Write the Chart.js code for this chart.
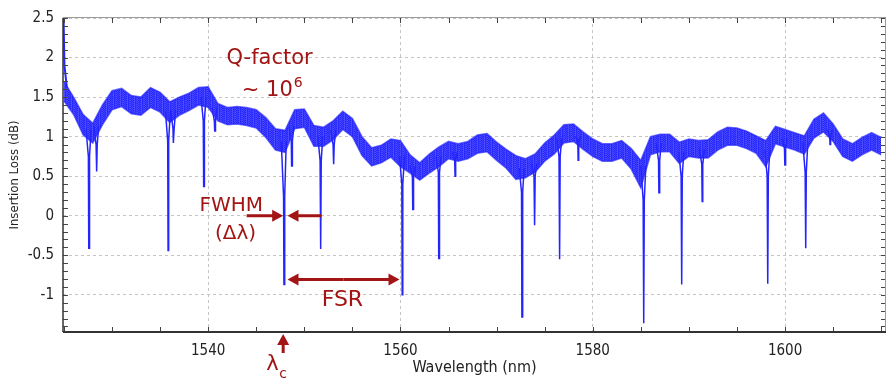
<!DOCTYPE html>
<html>
<head>
<meta charset="utf-8">
<script src="https://cdn.jsdelivr.net/npm/chart.js@4.4.1/dist/chart.umd.min.js"></script>
<style>
  html, body { margin: 0; padding: 0; background: #fff; }
  #spectrum { display: block; }
</style>
</head>
<body>
<canvas id="spectrum" width="886" height="383"></canvas>
<script>
// wavelength grid for the band readings (nm)
const bandNm = Array.from({length: 86}, (_, i) => 1525 + i);
// upper and lower edge of the noisy trace (dB)
const bandHigh = [
  1.70, 1.50, 1.28, 1.17, 1.40, 1.58, 1.61, 1.52, 1.50, 1.62,
  1.56, 1.44, 1.50, 1.55, 1.62, 1.63, 1.42, 1.37, 1.38, 1.37,
  1.34, 1.24, 1.10, 1.08, 1.34, 1.35, 1.14, 1.12, 1.20, 1.32,
  1.23, 1.00, 0.86, 0.89, 0.97, 0.95, 0.77, 0.67, 0.78, 0.87,
  0.94, 0.91, 0.94, 1.02, 1.04, 0.93, 0.84, 0.76, 0.72, 0.78,
  0.92, 1.02, 1.15, 1.16, 1.06, 0.97, 0.91, 0.91, 0.95, 0.85,
  0.70, 1.00, 1.03, 1.03, 0.93, 0.97, 0.95, 0.96, 1.06, 1.12,
  1.11, 1.07, 1.01, 0.95, 1.13, 1.09, 1.05, 1.01, 1.22, 1.30,
  1.16, 0.97, 0.91, 0.99, 1.05, 0.99
];
const bandLow = [
  1.45, 1.28, 1.02, 0.92, 1.15, 1.34, 1.38, 1.29, 1.27, 1.37,
  1.31, 1.18, 1.27, 1.33, 1.40, 1.37, 1.20, 1.15, 1.16, 1.14,
  1.11, 0.99, 0.83, 0.80, 1.10, 1.12, 0.88, 0.88, 0.96, 1.09,
  1.00, 0.76, 0.63, 0.67, 0.74, 0.62, 0.54, 0.45, 0.54, 0.62,
  0.72, 0.69, 0.72, 0.79, 0.81, 0.70, 0.60, 0.46, 0.48, 0.55,
  0.69, 0.78, 0.92, 0.94, 0.84, 0.75, 0.69, 0.69, 0.73, 0.59,
  0.35, 0.77, 0.81, 0.81, 0.66, 0.75, 0.73, 0.73, 0.83, 0.89,
  0.89, 0.85, 0.79, 0.62, 0.91, 0.87, 0.83, 0.78, 0.98, 1.06,
  0.94, 0.75, 0.69, 0.77, 0.83, 0.77
];
// resonance dips: centre wavelength (nm), minimum (dB), level where the funnel turns into a spike (dB)
const dipNm = [1527.6, 1528.4, 1535.85, 1536.4, 1539.55, 1540.7, 1547.9, 1548.7, 1551.7, 1553.05,
  1560.2, 1561.3, 1564.0, 1565.7, 1572.65, 1573.95, 1576.55, 1578.5, 1585.3, 1586.9,
  1589.25, 1591.4, 1598.2, 1600.0, 1602.15, 1604.7];
const dipMin = [-0.41, 0.56, -0.44, 0.92, 0.37, 1.07, -0.87, 0.63, -0.42, 0.65,
  -1.0, 0.08, -0.54, 0.5, -1.28, -0.12, -0.55, 0.7, -1.36, 0.29,
  -0.87, 0.18, -0.86, 0.64, -0.41, 0.9];
const dipKnee = [0.75, 0.9, 0.95, 1.1, 1.2, 1.2, 0.25, 0.95, 0.7, 0.9,
  0.4, 0.5, 0.55, 0.7, 0.3, 0.5, 0.75, 0.95, 0.2, 0.7,
  0.5, 0.65, 0.5, 0.85, 0.55, 1.0];
// start of the sweep
const startNm = [1524.95, 1525.05, 1525.3];
const startVal = [2.55, 1.9, 1.62];

const xTicks = [1540, 1560, 1580, 1600];
const xTickLabels = ['1540', '1560', '1580', '1600'];
const yTicks = [-1, -0.5, 0, 0.5, 1, 1.5, 2, 2.5];
const yTickLabels = ['-1', '-0.5', '0', '0.5', '1', '1.5', '2', '2.5'];

const BLUE = 'rgb(36,36,255)';
const RED = '#a31414';
const FONT = 'DejaVu Sans Condensed';

function bandMid(x) {
  const i = Math.max(0, Math.min(bandNm.length - 2, Math.floor(x - bandNm[0])));
  const t = x - bandNm[i];
  const a = (bandHigh[i] + bandLow[i]) / 2, b = (bandHigh[i + 1] + bandLow[i + 1]) / 2;
  return a + (b - a) * t;
}

const dipPts = [];
dipNm.forEach((x, i) => {
  const m = bandMid(x);
  const k = Math.min(dipKnee[i], m);
  dipPts.push(
    {x: x - 0.3, y: m}, {x: x - 0.06, y: k}, {x: x - 0.02, y: dipMin[i]},
    {x: x + 0.02, y: dipMin[i]}, {x: x + 0.06, y: k}, {x: x + 0.22, y: m},
    {x: x + 0.23, y: null}
  );
});

// fine hatch so the band does not look like a flat ribbon
function noisePattern() {
  const c = document.createElement('canvas');
  c.width = 7; c.height = 2;
  const g = c.getContext('2d');
  const alphas = [1, 0.84, 0.95, 0.88, 0.8, 1, 0.9];
  alphas.forEach((al, i) => {
    g.fillStyle = `rgba(36,36,255,${al})`;
    g.fillRect(i, 0, 1, 1);
    g.fillStyle = `rgba(36,36,255,${alphas[(i + 3) % 7]})`;
    g.fillRect(i, 1, 1, 1);
  });
  return g.createPattern(c, 'repeat');
}

function arrow(ctx, x1, y1, x2, y2) {
  const ang = Math.atan2(y2 - y1, x2 - x1);
  const hl = 11, hw = 6;
  ctx.beginPath();
  ctx.moveTo(x1, y1);
  ctx.lineTo(x2 - hl * 0.6 * Math.cos(ang), y2 - hl * 0.6 * Math.sin(ang));
  ctx.stroke();
  ctx.beginPath();
  ctx.moveTo(x2, y2);
  ctx.lineTo(x2 - hl * Math.cos(ang) + hw * Math.sin(ang), y2 - hl * Math.sin(ang) - hw * Math.cos(ang));
  ctx.lineTo(x2 - hl * Math.cos(ang) - hw * Math.sin(ang), y2 - hl * Math.sin(ang) + hw * Math.cos(ang));
  ctx.closePath();
  ctx.fill();
}

const extras = {
  id: 'extras',
  afterDraw(chart) {
    const {ctx, chartArea: a, scales: {x, y}} = chart;
    ctx.save();
    // inward ticks
    ctx.strokeStyle = '#444';
    ctx.lineWidth = 1;
    ctx.beginPath();
    for (let k = -14; k <= 25; k++) {
      const py = Math.round(y.getPixelForValue(k / 10)) + 0.5;
      ctx.moveTo(a.left, py); ctx.lineTo(a.left + 5, py);
      ctx.moveTo(a.right, py); ctx.lineTo(a.right - 5, py);
    }
    for (let v = 1525; v <= 1610; v += 5) {
      const px = Math.round(x.getPixelForValue(v)) + 0.5;
      ctx.moveTo(px, a.bottom); ctx.lineTo(px, a.bottom - 5);
      ctx.moveTo(px, a.top); ctx.lineTo(px, a.top + 5);
    }
    ctx.stroke();
    // frame
    ctx.strokeStyle = '#9a9a9a';
    ctx.beginPath();
    ctx.moveTo(a.left, a.top - 0.5); ctx.lineTo(a.right, a.top - 0.5);
    ctx.moveTo(a.right - 0.5, a.top); ctx.lineTo(a.right - 0.5, a.bottom);
    ctx.stroke();
    ctx.strokeStyle = '#333';
    ctx.lineWidth = 1.5;
    ctx.beginPath();
    ctx.moveTo(a.left, a.top); ctx.lineTo(a.left, a.bottom);
    ctx.stroke();
    ctx.lineWidth = 2;
    ctx.beginPath();
    ctx.moveTo(a.left, a.bottom); ctx.lineTo(a.right, a.bottom);
    ctx.stroke();

    // annotations
    ctx.fillStyle = RED;
    ctx.strokeStyle = RED;
    ctx.lineWidth = 3;
    ctx.textBaseline = 'alphabetic';
    ctx.textAlign = 'left';
    ctx.font = '21px "DejaVu Sans"';
    ctx.fillText('Q-factor', x.getPixelForValue(1541.9), y.getPixelForValue(1.92));
    const tx = x.getPixelForValue(1543.5), ty = y.getPixelForValue(1.52);
    ctx.fillText('~ 10', tx, ty);
    const w = ctx.measureText('~ 10').width;
    ctx.font = '14px "DejaVu Sans"';
    ctx.fillText('6', tx + w + 1, ty - 9);
    ctx.font = '20px "DejaVu Sans"';
    ctx.fillText('FWHM', x.getPixelForValue(1539.1), y.getPixelForValue(0.065));
    ctx.fillText('(\u0394\u03bb)', x.getPixelForValue(1540.7), y.getPixelForValue(-0.29));
    ctx.font = '22px "DejaVu Sans"';
    ctx.fillText('FSR', x.getPixelForValue(1551.8), y.getPixelForValue(-1.135));

    const y0 = y.getPixelForValue(0);
    arrow(ctx, x.getPixelForValue(1544.0), y0, x.getPixelForValue(1547.8), y0);
    arrow(ctx, x.getPixelForValue(1551.8), y0, x.getPixelForValue(1548.25), y0);
    const yf = y.getPixelForValue(-0.805);
    const xa = x.getPixelForValue(1548.25), xb = x.getPixelForValue(1559.9);
    arrow(ctx, (xa + xb) / 2, yf, xa, yf);
    arrow(ctx, (xa + xb) / 2, yf, xb, yf);

    const xc = x.getPixelForValue(1547.8);
    arrow(ctx, xc, a.bottom + 21, xc, a.bottom + 2);
    ctx.font = '21px "DejaVu Sans"';
    ctx.fillText('\u03bb', xc - 17, a.bottom + 38);
    ctx.font = '14px "DejaVu Sans"';
    ctx.fillText('c', xc - 4, a.bottom + 46);
    ctx.restore();
  }
};

new Chart(document.getElementById('spectrum'), {
  type: 'line',
  data: {
    datasets: [
      {
        label: 'band top',
        data: bandNm.map((v, i) => ({x: v, y: bandHigh[i]})),
        borderColor: 'rgba(36,36,255,0.65)',
        backgroundColor: noisePattern(),
        borderWidth: 1.5,
        pointRadius: 0,
        fill: '+1'
      },
      {
        label: 'band bottom',
        data: bandNm.map((v, i) => ({x: v, y: bandLow[i]})),
        borderColor: 'rgba(36,36,255,0.65)',
        borderWidth: 1.5,
        pointRadius: 0,
        fill: false
      },
      {
        label: 'dips',
        data: dipPts,
        borderColor: BLUE,
        backgroundColor: BLUE,
        borderWidth: 1.5,
        pointRadius: 0,
        spanGaps: false,
        fill: false
      },
      {
        label: 'start',
        data: startNm.map((v, i) => ({x: v, y: startVal[i]})),
        borderColor: BLUE,
        borderWidth: 2,
        pointRadius: 0,
        fill: false
      }
    ]
  },
  options: {
    responsive: false,
    animation: false,
    devicePixelRatio: 1,
    layout: { padding: { top: 11, right: 0, left: 0, bottom: 0 } },
    plugins: { legend: { display: false }, tooltip: { enabled: false } },
    scales: {
      x: {
        type: 'linear',
        min: 1524.9,
        max: 1610.5,
        afterBuildTicks: s => { s.ticks = xTicks.map(v => ({value: v})); },
        afterFit: s => { s.height = 51; },
        grid: { color: '#c4c4c4', lineWidth: 1, drawTicks: false },
        border: { display: false, dash: [3, 3] },
        ticks: {
          color: '#222', padding: 10, font: { family: FONT, size: 15 },
          callback: v => xTickLabels[xTicks.indexOf(v)]
        },
        title: {
          display: true, text: 'Wavelength (nm)', color: '#222',
          font: { family: FONT, size: 16 }, padding: { top: 0, bottom: 6 }
        }
      },
      y: {
        min: -1.47,
        max: 2.5,
        afterBuildTicks: s => { s.ticks = yTicks.map(v => ({value: v})); },
        afterFit: s => { s.width = 63; },
        grid: { color: '#c4c4c4', lineWidth: 1, drawTicks: false },
        border: { display: false, dash: [3, 3] },
        ticks: {
          color: '#222', padding: 9, font: { family: FONT, size: 15 },
          callback: v => yTickLabels[yTicks.indexOf(v)]
        },
        title: {
          display: true, text: 'Insertion Loss (dB)', color: '#222',
          font: { family: FONT, size: 13 }, padding: { top: 7, bottom: 0 }
        }
      }
    }
  },
  plugins: [extras]
});
</script>
</body>
</html>
